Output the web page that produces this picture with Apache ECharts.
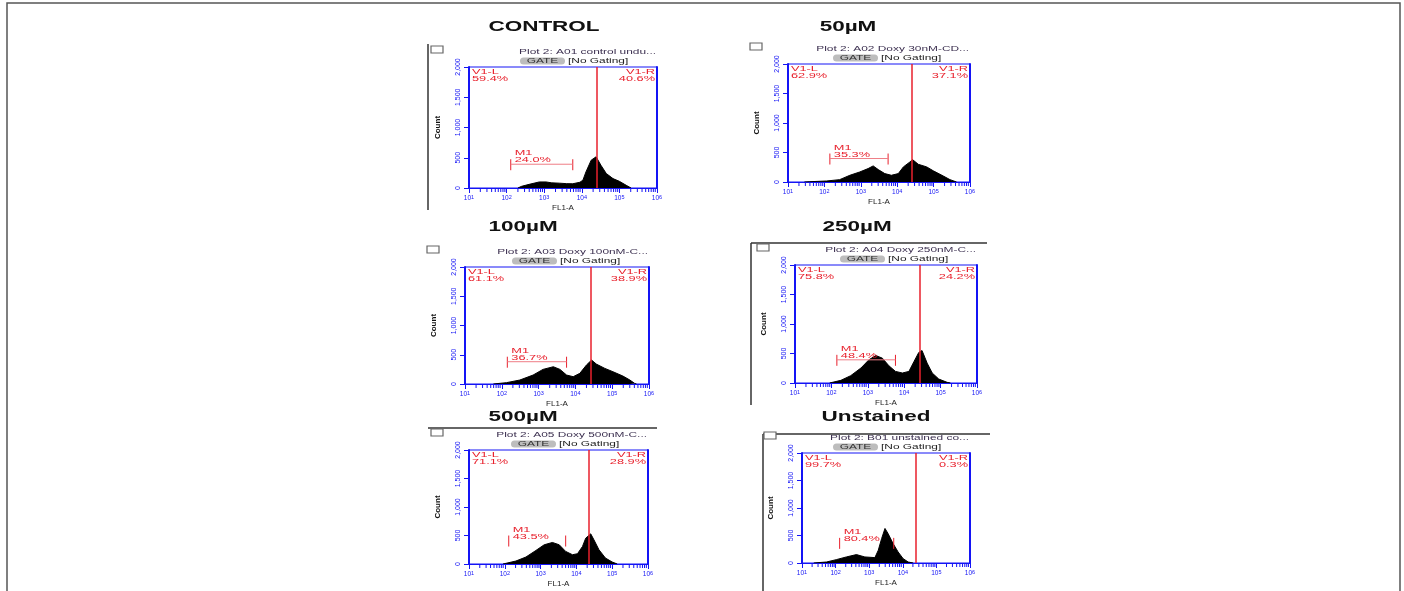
<!DOCTYPE html>
<html>
<head>
<meta charset="utf-8">
<title>FL1-A histograms</title>
<script src="https://cdn.jsdelivr.net/npm/echarts@6/dist/echarts.min.js"></script>
<style>
  html, body { margin: 0; padding: 0; background: #fff; }
  #chart { width: 1404px; height: 591px; }
</style>
</head>
<body>
<div id="chart"></div>
<script>
// values. FL1-A is kept as log10(intensity), axis runs 10^1 .. 10^6
const panelTitles = ['CONTROL', '50µM', '100µM', '250µM', '500µM', 'Unstained'];
const plotHeaders = [
  'Plot 2: A01 control undu...',
  'Plot 2: A02 Doxy 30nM-CD...',
  'Plot 2: A03 Doxy 100nM-C...',
  'Plot 2: A04 Doxy 250nM-C...',
  'Plot 2: A05 Doxy 500nM-C...',
  'Plot 2: B01 unstained co...'
];
const xDecades = [1, 2, 3, 4, 5, 6];
const yTicks = [0, 500, 1000, 1500, 2000];

const v1Gate = [4.40, 4.39, 4.41, 4.42, 4.35, 4.39];
const v1LeftPct = ['59.4%', '62.9%', '61.1%', '75.8%', '71.1%', '99.7%'];
const v1RightPct = ['40.6%', '37.1%', '38.9%', '24.2%', '28.9%', '0.3%'];

const m1Range = [[2.11, 3.76], [2.15, 3.75], [2.15, 3.76], [2.15, 3.76], [2.11, 3.70], [2.12, 3.73]];
const m1Level = [393, 398, 381, 393, 412, 366];
const m1Pct = ['24.0%', '35.3%', '36.7%', '48.4%', '43.5%', '80.4%'];

// [log10 FL1-A, count]
const histControl = [[2.30, 0], [2.40, 28], [2.60, 60], [2.87, 100], [3.05, 100], [3.20, 85], [3.40, 80], [3.60, 72], [3.76, 70], [3.95, 95], [4.03, 130], [4.11, 265], [4.25, 460], [4.38, 515], [4.51, 375], [4.65, 240], [4.83, 155], [5.00, 110], [5.18, 45], [5.31, 0]];
const hist50 = [[1.45, 0], [1.60, 5], [2.06, 17], [2.42, 40], [2.70, 114], [2.97, 170], [3.20, 227], [3.34, 273], [3.48, 210], [3.66, 142], [3.84, 114], [4.03, 142], [4.17, 256], [4.35, 340], [4.42, 380], [4.58, 300], [4.81, 256], [4.99, 190], [5.27, 100], [5.45, 40], [5.63, 0]];
const hist100 = [[1.77, 0], [2.13, 23], [2.49, 68], [2.85, 153], [3.12, 250], [3.40, 295], [3.58, 250], [3.76, 153], [3.94, 125], [4.12, 182], [4.30, 324], [4.44, 409], [4.57, 340], [4.80, 267], [5.02, 210], [5.29, 136], [5.48, 68], [5.61, 10], [5.66, 0]];
const hist250 = [[1.95, 0], [2.26, 45], [2.53, 124], [2.81, 253], [3.03, 393], [3.22, 466], [3.40, 421], [3.58, 292], [3.76, 197], [3.95, 169], [4.13, 197], [4.27, 365], [4.40, 517], [4.49, 550], [4.63, 337], [4.77, 169], [4.95, 67], [5.18, 11], [5.27, 0]];
const hist500 = [[1.95, 0], [2.31, 52], [2.59, 122], [2.87, 238], [3.10, 337], [3.33, 378], [3.52, 337], [3.70, 221], [3.89, 163], [4.03, 180], [4.17, 308], [4.26, 453], [4.40, 529], [4.49, 424], [4.63, 250], [4.81, 105], [5.00, 35], [5.14, 0]];
const histUnstained = [[1.35, 0], [1.73, 18], [2.02, 61], [2.32, 110], [2.62, 153], [2.87, 110], [3.17, 98], [3.27, 232], [3.37, 445], [3.47, 628], [3.56, 537], [3.71, 354], [3.86, 201], [4.01, 79], [4.16, 18], [4.31, 0]];
const histograms = [histControl, hist50, hist100, hist250, hist500, histUnstained];

// layout (pixels)
const boxes = [
  { left: 469, top: 67, width: 188, height: 121 },
  { left: 788, top: 64, width: 182, height: 118 },
  { left: 465, top: 267, width: 184, height: 117 },
  { left: 795, top: 265, width: 182, height: 118 },
  { left: 469, top: 450, width: 179, height: 114 },
  { left: 802, top: 453, width: 168, height: 110 }
];
const titlePos = [[544, 27], [848, 27], [523, 227], [857, 227], [523, 417], [876, 417]];
const m1Bar = [true, true, true, true, false, false];
const frameLines = [
  [428, 44, 428, 210],
  [751, 243, 987, 243], [751, 243, 751, 405],
  [428, 428, 657, 428],
  [763, 434, 990, 434], [763, 434, 763, 591]
];

const BLUE = '#1414f5';
const RED = '#e8202c';
const FONT = 'Arial, "Liberation Sans", sans-serif';

// log minor ticks at 2..9 of each decade
const minorTicks = [];
for (let d = 1; d < 6; d++) {
  for (let k = 2; k <= 9; k++) minorTicks.push([d + Math.log10(k), 0]);
}

function wideText(x, y, text, font, fill, align, sx) {
  return {
    type: 'text', x: x, y: y, scaleX: sx, silent: true, z: 100,
    style: { text: text, font: font, fill: fill, textAlign: align, align: align, textVerticalAlign: 'middle', verticalAlign: 'middle' }
  };
}

const grids = [], xAxes = [], yAxes = [], series = [], graphics = [];

graphics.push({ type: 'rect', shape: { x: 7, y: 3, width: 1393, height: 620 }, style: { fill: 'none', stroke: '#555', lineWidth: 1.5 }, silent: true });
frameLines.forEach(function (s) {
  graphics.push({ type: 'line', shape: { x1: s[0], y1: s[1], x2: s[2], y2: s[3] }, style: { stroke: '#333', lineWidth: 1.5 }, silent: true });
});

boxes.forEach(function (b, i) {
  const right = b.left + b.width;
  grids.push({ left: b.left, top: b.top, width: b.width, height: b.height, show: true, borderColor: BLUE, borderWidth: 1 });

  xAxes.push({
    gridIndex: i, type: 'value', min: xDecades[0], max: xDecades[xDecades.length - 1], interval: 1,
    name: 'FL1-A', nameLocation: 'middle', nameGap: 16,
    nameTextStyle: { fontSize: 8, color: '#222', fontFamily: FONT },
    axisLine: { show: true, lineStyle: { color: BLUE, width: 1 } },
    axisTick: { show: true, length: 5, lineStyle: { color: BLUE } },
    axisLabel: {
      margin: 6, showMinLabel: true, showMaxLabel: true,
      formatter: function (v) { return '{b|10}{s|' + v + '}'; },
      rich: {
        b: { fontSize: 6.5, color: BLUE, fontFamily: FONT },
        s: { fontSize: 5.5, color: BLUE, fontFamily: FONT, verticalAlign: 'top', padding: [0, 0, 3, 0] }
      }
    },
    splitLine: { show: false }
  });

  yAxes.push({
    gridIndex: i, type: 'value', min: yTicks[0], max: yTicks[yTicks.length - 1], interval: 500,
    name: 'Count', nameLocation: 'middle', nameGap: 27, nameRotate: 90,
    nameTextStyle: { fontSize: 8, fontWeight: 'bold', color: '#111', fontFamily: FONT },
    axisLine: { show: true, lineStyle: { color: BLUE, width: 2 } },
    axisTick: { show: true, length: 5, lineStyle: { color: BLUE } },
    axisLabel: {
      rotate: 90, margin: 7, fontSize: 7, color: BLUE, fontFamily: FONT,
      formatter: function (v) { return v.toLocaleString('en-US'); }
    },
    splitLine: { show: false }
  });
  yAxes.push({
    gridIndex: i, type: 'value', position: 'right', min: yTicks[0], max: yTicks[yTicks.length - 1],
    axisLine: { show: true, lineStyle: { color: BLUE, width: 2 } },
    axisTick: { show: false }, axisLabel: { show: false }, splitLine: { show: false }
  });

  series.push({
    type: 'line', xAxisIndex: i, yAxisIndex: 2 * i, data: histograms[i],
    symbol: 'none', silent: true, z: 2,
    lineStyle: { color: '#000', width: 1 },
    areaStyle: { color: '#000', opacity: 1 },
    markLine: {
      silent: true, symbol: ['none', 'none'], label: { show: false }, animation: false,
      lineStyle: { color: RED, width: 1.5, type: 'solid' },
      data: [{ xAxis: v1Gate[i] }]
    }
  });

  series.push({
    type: 'custom', xAxisIndex: i, yAxisIndex: 2 * i, clip: false, silent: true, z: 3,
    data: minorTicks,
    renderItem: function (params, api) {
      const p = api.coord([api.value(0), 0]);
      return { type: 'line', shape: { x1: p[0], y1: p[1], x2: p[0], y2: p[1] + 4 }, style: { stroke: BLUE, lineWidth: 1 } };
    }
  });

  series.push({
    type: 'custom', xAxisIndex: i, yAxisIndex: 2 * i, clip: false, silent: true, z: 5,
    data: [[m1Range[i][0], m1Range[i][1], m1Level[i]]],
    renderItem: function (params, api) {
      const a = api.coord([api.value(0), api.value(2)]);
      const c = api.coord([api.value(1), api.value(2)]);
      const st = { stroke: RED, lineWidth: 1 };
      const kids = [
        { type: 'line', shape: { x1: a[0], y1: a[1] - 5, x2: a[0], y2: a[1] + 6 }, style: st },
        { type: 'line', shape: { x1: c[0], y1: c[1] - 5, x2: c[0], y2: c[1] + 6 }, style: st }
      ];
      if (m1Bar[i]) {
        kids.push({ type: 'line', shape: { x1: a[0], y1: a[1], x2: c[0], y2: c[1] }, style: { stroke: '#ef7d86', lineWidth: 1 } });
      }
      kids.push(wideText(a[0] + 4, a[1] - 11, 'M1', '7.5px ' + FONT, RED, 'left', 1.7));
      kids.push(wideText(a[0] + 4, a[1] - 4, m1Pct[i], '7.5px ' + FONT, RED, 'left', 1.7));
      return { type: 'group', children: kids };
    }
  });

  // titles and plot decorations
  graphics.push(wideText(titlePos[i][0], titlePos[i][1], panelTitles[i], 'bold 15px ' + FONT, '#111', 'center', 1.5));
  graphics.push(wideText(right - 1, b.top - 15, plotHeaders[i], '7px ' + FONT, '#3c3050', 'right', 1.7));
  graphics.push({ type: 'rect', shape: { x: right - 137, y: b.top - 9.5, width: 45, height: 7, r: 3.5 }, style: { fill: '#bdbdbd' }, silent: true });
  graphics.push(wideText(right - 114.5, b.top - 6, 'GATE', '7px ' + FONT, '#333', 'center', 1.7));
  graphics.push(wideText(right - 89, b.top - 6, '[No Gating]', '7px ' + FONT, '#222', 'left', 1.7));
  graphics.push({ type: 'rect', shape: { x: b.left - 38, y: b.top - 21, width: 12, height: 7 }, style: { fill: '#fff', stroke: '#666', lineWidth: 1.2 }, silent: true });

  graphics.push(wideText(b.left + 3, b.top + 5, 'V1-L', '7.5px ' + FONT, RED, 'left', 1.7));
  graphics.push(wideText(b.left + 3, b.top + 12, v1LeftPct[i], '7.5px ' + FONT, RED, 'left', 1.7));
  graphics.push(wideText(right - 2, b.top + 5, 'V1-R', '7.5px ' + FONT, RED, 'right', 1.7));
  graphics.push(wideText(right - 2, b.top + 12, v1RightPct[i], '7.5px ' + FONT, RED, 'right', 1.7));
});

const chart = echarts.init(document.getElementById('chart'), null, { renderer: 'canvas' });
chart.setOption({
  animation: false,
  backgroundColor: '#fff',
  grid: grids,
  xAxis: xAxes,
  yAxis: yAxes,
  series: series,
  graphic: { elements: graphics }
});
</script>
</body>
</html>
